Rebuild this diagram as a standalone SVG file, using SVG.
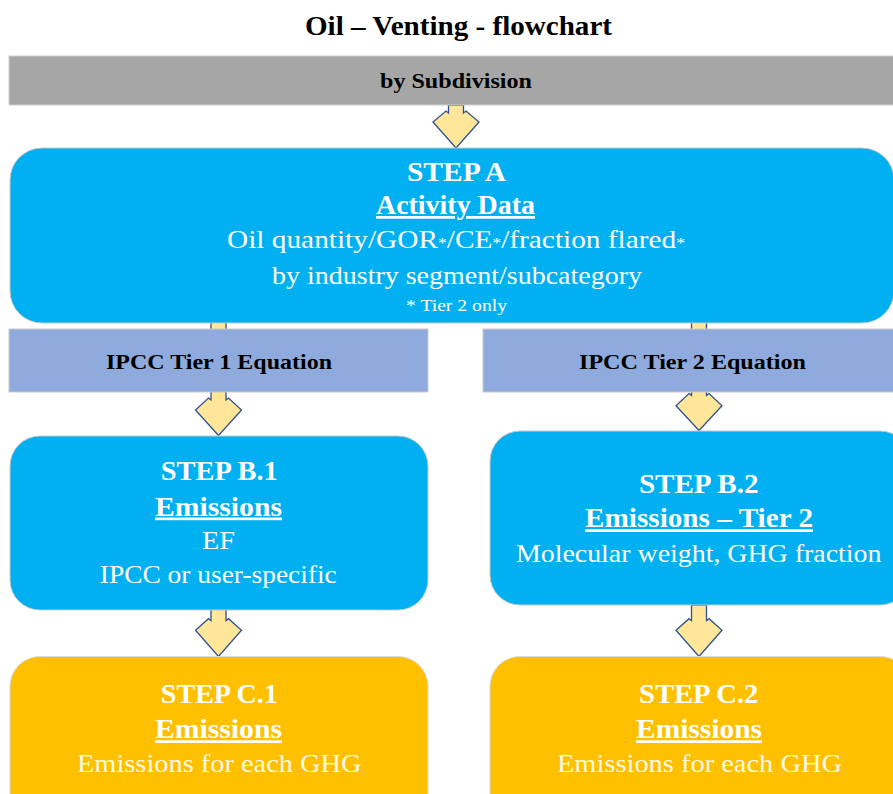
<svg xmlns="http://www.w3.org/2000/svg" width="893" height="794" viewBox="0 0 893 794">
<style>
.bold{font-family:"Liberation Serif","Times New Roman",serif;font-weight:bold;text-anchor:middle}
.reg{font-family:"Liberation Serif","Times New Roman",serif;text-anchor:middle}
.w{fill:#ffffff}
.k{fill:#000000}
.ul{text-decoration:underline}
.arrow{fill:#FFE699;stroke:#2F528F;stroke-width:1.3;stroke-linejoin:miter}
.blue{fill:#00B0F0;stroke:#C9C9C9;stroke-width:1}
.gold{fill:#FFC000;stroke:#D9D9D9;stroke-width:1}
.lav{fill:#8FAADC;stroke:#C9C9C9;stroke-width:1}
.gray{fill:#A6A6A6;stroke:#D0D0D0;stroke-width:1}
</style>
<rect width="893" height="794" fill="#ffffff"/>
<text id="title" class="bold k" x="458.5" y="35" font-size="28" textLength="307" lengthAdjust="spacingAndGlyphs">Oil – Venting - flowchart</text>

<g id="connectors">
  <polygon class="arrow" points="448.5,105 463.5,105 463.5,113 466,111 479,122 456,148 433,122 446,111 448.5,113"/>
  <polygon class="arrow" points="211,318 226,318 226,400 228.5,398 241.5,410 218.5,435.5 195.5,410 208.5,398 211,400"/>
  <polygon class="arrow" points="691.5,318 706.5,318 706.5,395.5 709,393.5 722,405.7 699,430.5 676,405.7 689,393.5 691.5,395.5"/>
  <polygon class="arrow" points="211,609 226,609 226,620.7 228.5,618.7 241.5,630.3 218.5,656.5 195.5,630.3 208.5,618.7 211,620.7"/>
  <polygon class="arrow" points="691.5,605 706.5,605 706.5,620.7 709,618.7 722,630.3 699,656.5 676,630.3 689,618.7 691.5,620.7"/>
</g>

<g id="subdivision">
  <rect class="gray" x="9" y="56" width="890" height="49"/>
  <text class="bold k" x="456" y="88" font-size="22" textLength="152" lengthAdjust="spacingAndGlyphs">by Subdivision</text>
</g>

<g id="stepA">
  <rect class="blue" x="10" y="148" width="884" height="175" rx="32" ry="32"/>
  <text class="bold w" x="456.5" y="181" font-size="27" textLength="99" lengthAdjust="spacingAndGlyphs">STEP A</text>
  <text class="bold w ul" x="455.5" y="214" font-size="27" textLength="159" lengthAdjust="spacingAndGlyphs">Activity Data</text>
  <text class="reg w" x="456" y="248" font-size="25" textLength="458" lengthAdjust="spacingAndGlyphs">Oil quantity/GOR<tspan font-size="15">*</tspan>/CE<tspan font-size="15">*</tspan>/fraction flared<tspan font-size="15">*</tspan></text>
  <text class="reg w" x="457" y="284" font-size="25" textLength="370" lengthAdjust="spacingAndGlyphs">by industry segment/subcategory</text>
  <text class="reg w" x="456.5" y="311" font-size="17" textLength="101" lengthAdjust="spacingAndGlyphs">* Tier 2 only</text>
</g>

<g id="tier1">
  <rect class="lav" x="9" y="329" width="419" height="63"/>
  <text class="bold k" x="219" y="369" font-size="22" textLength="226" lengthAdjust="spacingAndGlyphs">IPCC Tier 1 Equation</text>
</g>

<g id="tier2">
  <rect class="lav" x="483" y="329" width="416" height="63"/>
  <text class="bold k" x="692.5" y="369" font-size="22" textLength="227" lengthAdjust="spacingAndGlyphs">IPCC Tier 2 Equation</text>
</g>

<g id="stepB1">
  <rect class="blue" x="10" y="436" width="418" height="174" rx="30" ry="30"/>
  <text class="bold w" x="219.3" y="480" font-size="27" textLength="117" lengthAdjust="spacingAndGlyphs">STEP B.1</text>
  <text class="bold w ul" x="218.5" y="515.5" font-size="27" textLength="127" lengthAdjust="spacingAndGlyphs">Emissions</text>
  <text class="reg w" x="218.5" y="548.5" font-size="25" textLength="33" lengthAdjust="spacingAndGlyphs">EF</text>
  <text class="reg w" x="218.3" y="583.3" font-size="25" textLength="237" lengthAdjust="spacingAndGlyphs">IPCC or user-specific</text>
</g>

<g id="stepB2">
  <rect class="blue" x="490" y="431" width="420" height="174" rx="30" ry="30"/>
  <text class="bold w" x="698.7" y="492.7" font-size="27" textLength="119.5" lengthAdjust="spacingAndGlyphs">STEP B.2</text>
  <text class="bold w ul" x="699" y="527.3" font-size="27" textLength="228" lengthAdjust="spacingAndGlyphs">Emissions – Tier 2</text>
  <text class="reg w" x="698.7" y="561.7" font-size="25" textLength="365.5" lengthAdjust="spacingAndGlyphs">Molecular weight, GHG fraction</text>
</g>

<g id="stepC1">
  <rect class="gold" x="10" y="656.5" width="418" height="170" rx="30" ry="30"/>
  <text class="bold w" x="219.3" y="702.7" font-size="27" textLength="117" lengthAdjust="spacingAndGlyphs">STEP C.1</text>
  <text class="bold w ul" x="218.5" y="738.3" font-size="27" textLength="127" lengthAdjust="spacingAndGlyphs">Emissions</text>
  <text class="reg w" x="219.3" y="771.7" font-size="25" textLength="284.6" lengthAdjust="spacingAndGlyphs" fill-opacity="0.92">Emissions for each GHG</text>
</g>

<g id="stepC2">
  <rect class="gold" x="490" y="656.5" width="420" height="170" rx="30" ry="30"/>
  <text class="bold w" x="698.7" y="702.7" font-size="27" textLength="119.5" lengthAdjust="spacingAndGlyphs">STEP C.2</text>
  <text class="bold w ul" x="699" y="738.3" font-size="27" textLength="126" lengthAdjust="spacingAndGlyphs">Emissions</text>
  <text class="reg w" x="699.5" y="771.7" font-size="25" textLength="285" lengthAdjust="spacingAndGlyphs" fill-opacity="0.92">Emissions for each GHG</text>
</g>
</svg>
